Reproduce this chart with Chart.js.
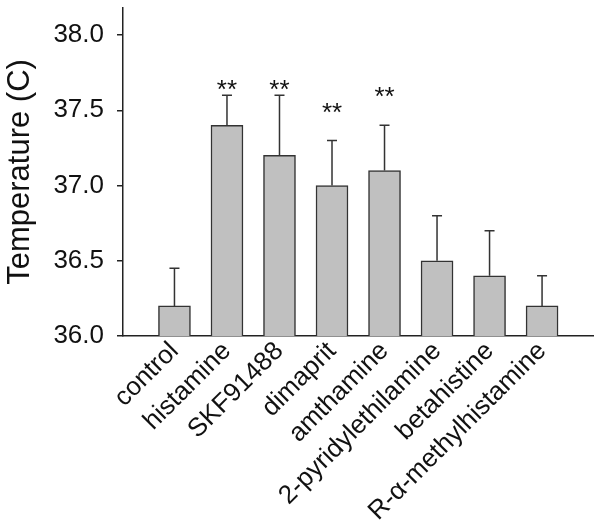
<!DOCTYPE html>
<html>
<head>
<meta charset="utf-8">
<script src="https://cdn.jsdelivr.net/npm/chart.js@4.4.0/dist/chart.umd.min.js"></script>
<style>
  body { margin: 0; background: #fff; }
  #wrap { width: 601px; height: 527px; }
</style>
</head>
<body>
<div id="wrap"><canvas id="myChart" width="601" height="527"></canvas></div>
<script>
var categories = ['control', 'histamine', 'SKF91488', 'dimaprit', 'amthamine',
    '2-pyridylethilamine', 'betahistine', 'R-\u03b1-methylhistamine'];
var means = [36.2, 37.4, 37.2, 37.0, 37.1, 36.5, 36.4, 36.2];
var errors = [0.25, 0.2, 0.4, 0.3, 0.3, 0.3, 0.3, 0.2];
// where the "**" marks sit (temperature units), null = no mark
var stars = [null, 37.685, 37.685, 37.53, 37.635, null, null, null];
var yTicks = [36.0, 36.5, 37.0, 37.5, 38.0];

var FONT = "'Liberation Sans', Arial, sans-serif";
var INK = '#111';

var errorBars = {
    id: 'errorBars',
    afterDatasetsDraw: function (chart) {
        var ctx = chart.ctx;
        var xs = chart.scales.x, ys = chart.scales.y;
        ctx.save();
        ctx.strokeStyle = '#333';
        ctx.lineWidth = 1.5;
        means.forEach(function (m, i) {
            var x = xs.getPixelForValue(i);
            var y0 = ys.getPixelForValue(m);
            var y1 = ys.getPixelForValue(m + errors[i]);
            ctx.beginPath();
            ctx.moveTo(x, y0);
            ctx.lineTo(x, y1);
            ctx.moveTo(x - 5, y1);
            ctx.lineTo(x + 5, y1);
            ctx.stroke();
        });
        ctx.fillStyle = INK;
        ctx.font = '26px ' + FONT;
        ctx.textAlign = 'center';
        ctx.textBaseline = 'alphabetic';
        stars.forEach(function (s, i) {
            if (s === null) return;
            var x = xs.getPixelForValue(i);
            var y = ys.getPixelForValue(s);
            ctx.fillText('**', x, y + 0.58 * 26);
        });
        ctx.restore();
    }
};

function initGraph() {
    var data = {
        datasets: [{
            label: 'Temperature',
            data: categories.map(function (c, i) { return { x: i, y: means[i] }; }),
            backgroundColor: '#c0c0c0',
            borderColor: '#333',
            borderWidth: 1.5,
            borderSkipped: false,
            barThickness: 32
        }]
    };
    var config = {
        type: 'bar',
        data: data,
        plugins: [errorBars],
        options: {
            responsive: false,
            animation: false,
            layout: { padding: { top: 8, right: 8, left: 0, bottom: 0 } },
            plugins: { legend: { display: false }, tooltip: { enabled: false } },
            scales: {
                x: {
                    type: 'linear',
                    min: -0.98,
                    max: 7.97,
                    offset: false,
                    grid: { display: true, offset: false, drawOnChartArea: false, drawTicks: false },
                    border: { display: true, color: '#222', width: 1.5 },
                    afterBuildTicks: function (scale) {
                        scale.ticks = categories.map(function (c, i) { return { value: i }; });
                    },
                    afterFit: function (scale) {
                        scale.height = 191;
                        scale.paddingLeft = 0;
                        scale.paddingRight = 0;
                    },
                    ticks: {
                        autoSkip: false,
                        minRotation: 45,
                        maxRotation: 45,
                        padding: 0,
                        color: INK,
                        font: { family: FONT, size: 26 },
                        callback: function (v) { return categories[v]; }
                    }
                },
                y: {
                    min: 36,
                    max: 38.18,
                    afterBuildTicks: function (scale) {
                        scale.ticks = yTicks.map(function (v) { return { value: v }; });
                    },
                    afterFit: function (scale) {
                        scale.width = 123;
                        scale.paddingTop = 0;
                        scale.paddingBottom = 0;
                    },
                    grid: { display: true, drawOnChartArea: false, drawTicks: true, tickLength: 6, color: '#222', lineWidth: 1.5 },
                    border: { display: true, color: '#222', width: 1.5 },
                    ticks: {
                        padding: 13,
                        color: INK,
                        font: { family: FONT, size: 26 },
                        callback: function (v) { return v.toFixed(1); }
                    },
                    title: {
                        display: true,
                        text: 'Temperature (C)',
                        color: INK,
                        font: { family: FONT, size: 31 },
                        padding: { top: 2, bottom: 0 }
                    }
                }
            }
        }
    };
    new Chart(document.getElementById('myChart'), config);
}
initGraph();
</script>
</body>
</html>
